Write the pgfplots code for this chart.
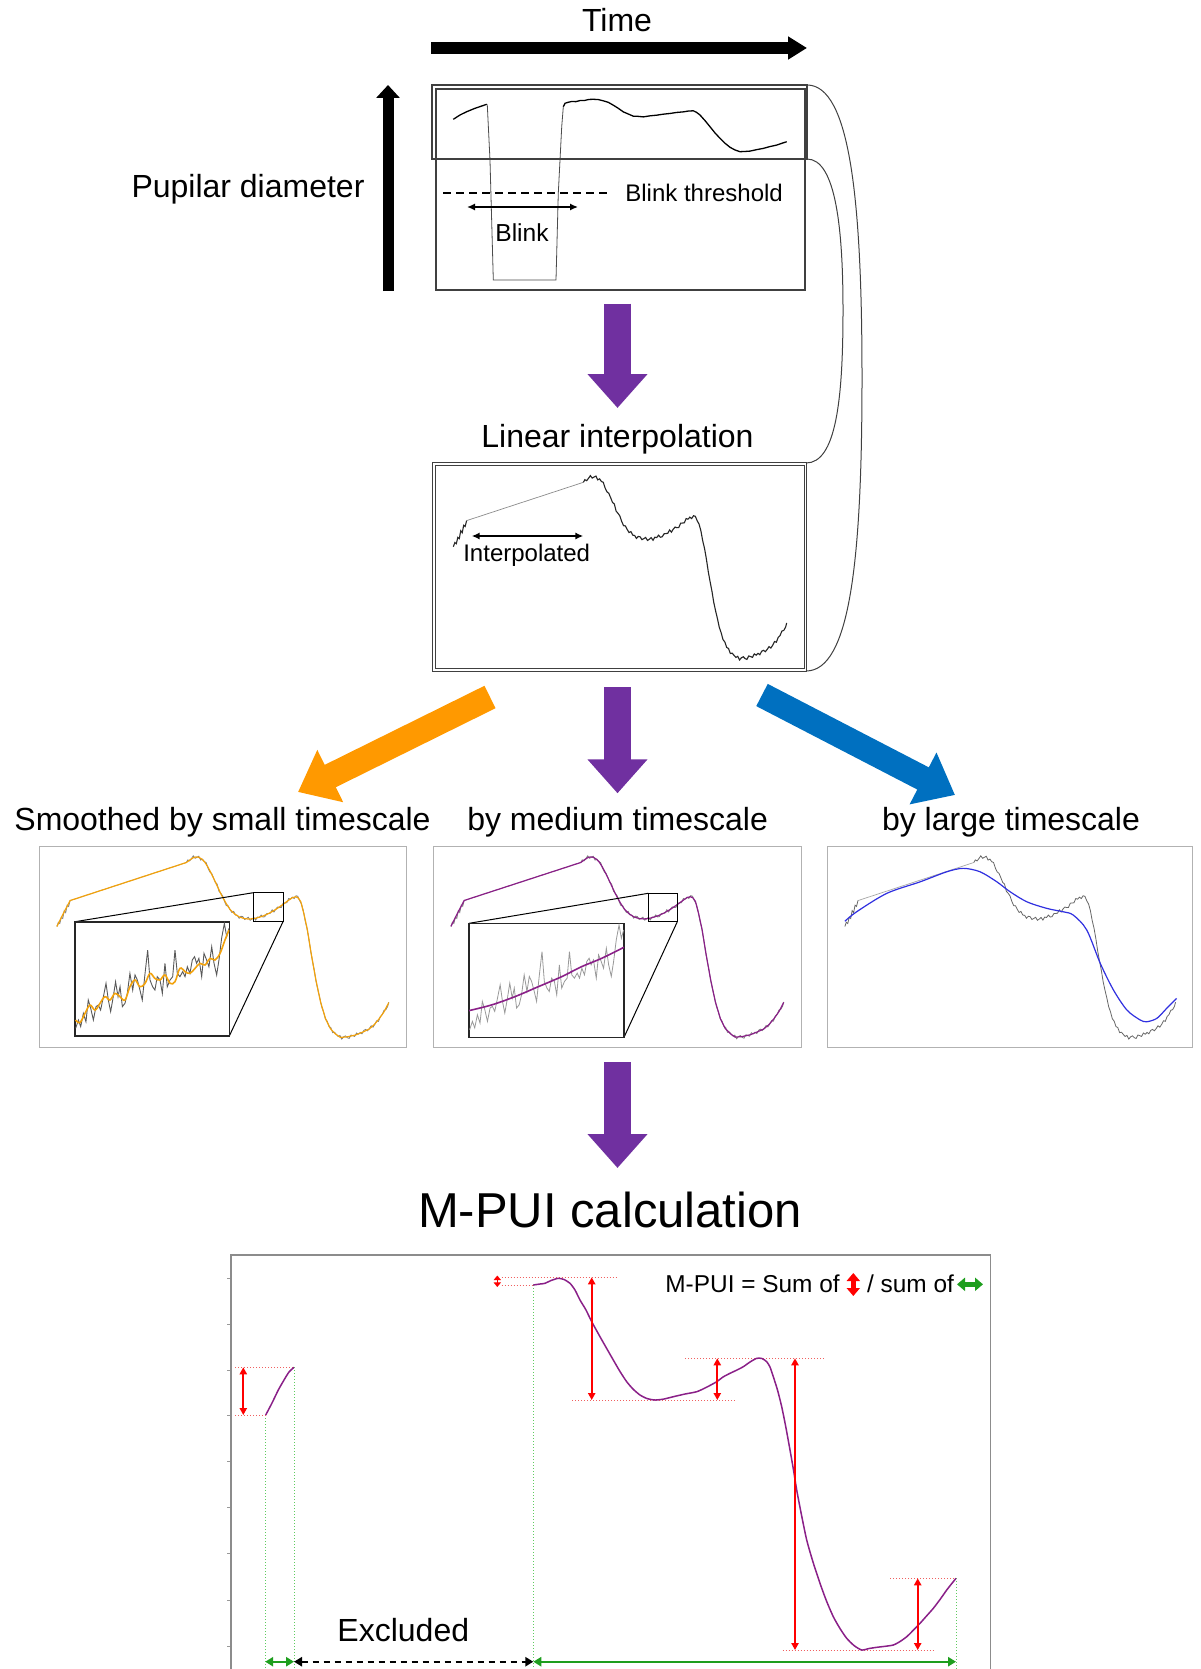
\documentclass[border=0pt]{standalone}
\usepackage{fontspec}
\setmainfont{Liberation Sans}
\usepackage{pgfplots}
\pgfplotsset{compat=1.18}
\usepackage{pgfplotstable}
\usetikzlibrary{arrows.meta}

\definecolor{arrorange}{HTML}{FF9900}
\definecolor{arrpurple}{HTML}{7030A0}
\definecolor{arrblue}{HTML}{0070C0}
\definecolor{smorange}{HTML}{F2A20C}
\definecolor{smpurple}{HTML}{8A2088}
\definecolor{smblue}{HTML}{3030E0}
\definecolor{mpuired}{HTML}{FF0000}
\definecolor{mpuigreen}{HTML}{1E9E1E}
\definecolor{dotgreen}{HTML}{5FCB5F}
\definecolor{dotred}{HTML}{F06060}

% raw trace with blink (time in % of window, diameter in arbitrary units)
\pgfplotstableread{
u v
4.69 60.2
6.50 67.5
8.32 73.1
10.57 78.8
12.38 82.7
13.74 85.6
}\topA
\pgfplotstableread{
u v
13.74 85.6
13.90 84.4
14.63 -8.6
15.53 -211.7
32.52 -211.7
33.14 -65.0
34.07 47.7
34.50 81.6
}\topBlink
\pgfplotstableread{
u v
34.50 81.6
34.96 87.3
35.8 89.0
36.78 90.4
37.9 90.1
39.02 91.9
40.2 92.0
41.4 93.8
42.63 94.1
44.0 93.6
45.34 91.5
46.7 88.9
48.05 84.1
49.4 78.8
50.76 72.8
52.1 69.2
53.47 65.5
54.8 65.2
56.18 64.3
58.0 66.1
59.81 67.2
61.6 68.9
63.41 70.1
65.2 71.8
67.02 72.8
68.4 74.2
69.73 74.6
70.6 72.0
71.54 67.5
72.9 58.0
74.25 47.7
75.6 37.2
76.96 28.1
78.3 19.8
79.67 12.9
81.0 8.4
82.38 5.4
83.7 5.8
85.09 6.4
86.9 8.9
88.70 11.0
90.5 14.1
92.33 16.6
93.7 19.6
95.04 22.3
}\topB

% trace after blink removal: samples before and after the gap
\pgfplotstableread{
u v
4.8 60.0
5.2 62.1
5.6 61.5
6.0 64.6
6.4 64.0
6.8 67.9
7.2 66.9
7.6 70.6
8.0 70.0
8.4 72.9
}\rawA
\pgfplotstableread{
u v
8.4 72.9
40.1 91.8
}\interp
\pgfplotstableread{
u v
40.1 91.8
40.5 93.1
41.0 92.6
41.5 93.8
42.0 95.1
42.5 93.9
43.0 94.4
43.5 94.9
44.0 93.0
44.5 93.5
45.0 92.2
45.5 91.8
46.0 89.0
46.5 87.1
47.0 86.4
47.5 84.2
48.0 81.9
48.5 81.1
49.0 77.5
49.5 76.5
50.0 75.2
50.5 72.5
51.0 70.4
51.5 70.3
52.0 68.5
52.5 67.0
53.0 67.5
53.5 65.7
54.0 65.6
54.5 64.1
55.0 65.1
55.5 64.9
56.0 63.5
56.5 64.0
57.0 64.6
57.5 63.1
58.0 63.7
58.5 64.5
59.0 63.2
59.5 64.7
60.0 64.5
60.5 65.7
61.0 64.7
61.5 64.9
62.0 66.4
62.5 66.5
63.0 66.6
63.5 68.3
64.0 67.2
64.5 68.7
65.0 69.7
65.5 69.4
66.0 69.5
66.5 71.6
67.0 71.7
67.5 71.8
68.0 73.9
68.5 73.6
69.0 74.6
69.5 73.9
70.0 75.3
70.5 75.0
71.0 72.8
71.5 71.2
72.0 67.9
72.5 62.9
73.0 59.1
73.5 53.9
74.0 47.8
74.5 42.8
75.0 38.1
75.5 32.5
76.0 28.3
76.5 24.5
77.0 20.2
77.5 17.6
78.0 14.2
78.5 13.0
79.0 10.3
79.5 9.8
80.0 7.3
80.5 7.5
81.0 6.4
81.5 5.4
82.0 5.9
82.5 4.1
83.0 5.2
83.5 5.7
84.0 4.8
84.5 4.4
85.0 6.1
85.5 5.8
86.0 5.4
86.5 7.1
87.0 6.5
87.5 7.4
88.0 6.7
88.5 8.4
89.0 8.9
89.5 8.2
90.0 9.3
90.5 10.7
91.0 10.0
91.5 11.4
92.0 13.2
92.5 12.9
93.0 15.3
93.5 16.2
94.0 18.4
94.5 18.7
95.0 20.3
95.3 22.4
}\rawB

% smoothed traces
\pgfplotstableread{
u v
4.8 60.0
6.6 66.6
8.4 72.9
40.1 91.8
41 93.0
42 94.2
42.8 94.6
43.5 94.4
44.3 93.5
45.1 92.1
46 89.5
47 86.0
48.2 81.4
49.5 76.3
50.9 71.6
52 68.5
53.3 66.2
54.6 64.7
56 63.9
57.3 63.7
59 64.1
61 65.2
62.7 66.6
64.5 68.5
66.3 70.8
68.1 73.2
69.0 74.3
69.9 74.8
70.6 74.2
71.3 72.4
72.2 66.0
73.1 58.4
74.2 46.0
75.4 33.7
76.7 22.5
78.1 14.0
79.4 9.2
80.8 6.6
82.1 4.9
84 5.2
86.2 6.1
88 7.4
89.9 9.0
91.3 11.2
92.6 14.0
94 17.6
95.3 22.2
}\smoothSM
\pgfplotstableread{
u v
4.8 62.6
8.0 67.3
16.3 76.5
25.4 82.2
32.7 87.2
37.2 88.9
41.8 87.2
46.4 82.2
50.0 77.3
54.6 72.3
60.1 69.0
64.6 67.3
67.3 65.7
71.0 58.3
74.7 41.7
78.3 28.5
82.0 18.5
85.6 13.6
87.4 12.7
90.2 14.4
92.9 19.4
95.6 24.3
}\smoothL

% close-up window of the raw trace
\pgfplotstableread{
p q
0.4 6.7
2.2 14.0
3.7 8.2
5.4 19.8
7.1 12.5
8.6 31.5
10.2 24.2
11.9 14.0
13.6 25.7
15.1 27.1
16.6 22.7
18.4 34.4
20.1 46.1
21.6 31.5
23.1 21.3
24.8 34.4
26.3 47.5
27.9 34.4
29.2 43.1
30.7 25.7
32.4 28.6
33.9 37.3
35.6 54.8
37.4 40.2
38.9 53.4
40.4 49.0
42.1 40.2
43.6 31.5
45.4 54.8
47.1 75.2
48.6 49.0
50.3 43.1
51.8 40.2
53.3 51.9
55.1 49.0
56.6 37.3
58.3 63.6
59.8 43.1
61.6 49.0
63.3 51.9
64.8 75.2
66.3 54.8
68.0 51.9
69.8 56.3
71.3 51.9
72.8 60.6
74.5 54.8
76.0 66.5
77.5 69.4
78.8 63.6
80.3 67.9
82.1 51.9
83.6 72.3
85.3 66.5
86.8 60.6
88.6 78.1
90.1 63.6
91.8 53.4
93.3 66.5
95.0 85.4
96.8 98.5
98.3 86.9
99.8 94.2
}\insetRaw
\pgfplotstableread{
p q
0.4 14.0
3.2 11.7
6.5 19.8
9.7 27.1
13.0 22.7
16.2 28.6
19.4 34.4
22.7 31.5
25.9 37.3
29.2 34.4
32.4 31.5
35.6 43.1
38.9 49.0
42.1 43.1
45.4 46.1
48.6 54.8
51.8 50.4
55.1 49.0
58.3 53.4
61.6 46.1
64.8 47.5
68.0 59.2
71.3 56.3
74.5 54.8
77.8 59.2
81.0 63.6
84.2 62.1
87.5 67.9
90.7 66.5
94.0 72.3
97.2 84.0
99.8 92.7
}\insetSmall
\pgfplotstableread{
p q
0 23.4
14.6 28.4
29.7 35.7
44.7 44.4
59.8 53.2
72.7 62.0
85.6 69.3
100 79.0
}\insetMedium

% medium-timescale trace used for M-PUI (time, diameter in plot units)
\pgfplotstableread{
t d
265.7 1415
272 1403
278.3 1390
284 1380
289 1372
294 1367.3
}\mpuiA
\pgfplotstableread{
t d
533.3 1285
540 1284
545 1283.3
551 1280.5
558.3 1278.3
564 1279.5
570 1283.3
575 1290
580 1300
586 1310
591.7 1321.7
600 1336.7
606.7 1348.5
613.3 1360
620 1371.5
626.7 1381.7
633 1389
640 1395
647 1398.5
655 1400
664 1399
673.3 1396.7
685 1394
696.7 1391.7
706 1387.5
716.7 1381.7
723 1377
730 1373.3
737 1370
743.3 1366.7
750 1362
756.7 1358.3
762 1358.5
766.7 1361.7
770 1367
773.3 1376.7
777.5 1390
781.7 1406.7
786 1428
790 1450
793.5 1470
796.7 1490
801.5 1515
806.7 1540
813 1562
820 1583.3
826.5 1601
833.3 1616.7
840 1628.5
846.7 1638.3
854 1645.5
861.7 1650
869 1648.5
876.7 1647.3
885 1646.3
893.3 1645
900 1641.5
906.7 1636.7
913 1630.5
920 1623.3
926.5 1616
933.3 1608.3
940 1599.5
946.7 1590
951 1584.5
956 1578.3
}\mpuiB

\pgfplotsset{
  panel/.style={scale only axis, anchor=north west, xtick=\empty, ytick=\empty,
    xmin=0, xmax=100, ymin=0, ymax=100,
    axis background/.style={fill=white},
    axis line style={draw=black!30, line width=0.5pt}},
  closeup/.style={panel, axis line style={draw=black!85, line width=0.8pt}},
}

\tikzset{
  txt/.style={inner sep=0pt, anchor=base},
  fatv/.style={line width=13.85pt, -{Triangle[length=17pt,width=29pt]}},
  dblk/.style={line width=0.8pt, {Latex[length=4pt,width=3.6pt]}-{Latex[length=4pt,width=3.6pt]}},
  reddot/.style={dotred, densely dotted, line width=0.5pt},
  greendot/.style={dotgreen, densely dotted, line width=0.5pt},
  redarr/.style={mpuired, line width=0.9pt, {Triangle[length=3.5pt,width=3.6pt]}-{Triangle[length=3.5pt,width=3.6pt]}},
  grnarr/.style={mpuigreen, line width=1.2pt, {Triangle[length=4pt,width=4.6pt]}-{Triangle[length=4pt,width=4.6pt]}},
}

\begin{document}
\begin{tikzpicture}
\begin{scope}[x=0.5pt,y=-0.5pt]
% axes of the schematic
\node[txt, font=\fontsize{16}{19}\selectfont] at (617,31.7) {Time};
\draw[line width=6pt, -{Triangle[length=9.5pt,width=11pt]}] (431,48) -- (807,48);
\node[txt, font=\fontsize{16}{19}\selectfont] at (248,198) {Pupilar diameter};
\draw[line width=5.5pt, -{Triangle[length=6.5pt,width=11.5pt]}] (388,291) -- (388,85);

% zoom connectors from the raw strip to the interpolated panel
\draw[black!75, line width=0.5pt] (807,85) .. controls (850,85) and (862,200) .. (862,378)
      .. controls (862,560) and (850,671) .. (806,671);
\draw[black!75, line width=0.5pt] (807,159) .. controls (836,159) and (843,230) .. (843,310)
      .. controls (843,400) and (836,463) .. (806,463);

% flow arrows
\draw[arrpurple, fatv] (617.5,303.5) -- (617.5,408);
\node[txt, font=\fontsize{16}{19}\selectfont] at (617.5,447) {Linear interpolation};
\draw[arrpurple, fatv] (617.5,687) -- (617.5,793.3);
\draw[arrorange, line width=12.5pt, -{Triangle[length=18pt,width=28pt]}] (490,697) -- (298,792);
\draw[arrblue, line width=12.5pt, -{Triangle[length=18pt,width=28pt]}] (762,695) -- (955,795);
\node[txt, font=\fontsize{16}{19}\selectfont] at (222.5,830.5) {Smoothed by small timescale};
\node[txt, font=\fontsize{16}{19}\selectfont] at (617.6,830.5) {by medium timescale};
\node[txt, font=\fontsize{16}{19}\selectfont] at (1011,830.5) {by large timescale};
\draw[arrpurple, fatv] (617.5,1062) -- (617.5,1168);
\node[txt, font=\fontsize{24.5}{30}\selectfont] at (610,1227.7) {M-PUI calculation};
\end{scope}

% raw trace with blink
\begin{axis}[panel, at={(218pt,-44.5pt)}, width=184.5pt, height=100.5pt,
    ymin=-228.6, ymax=111.5, axis line style={draw=black!75, line width=0.6pt}]
  \addplot[black!70, line width=0.4pt] table {\topBlink};
  \addplot[black, line width=0.65pt] table {\topA};
  \addplot[black, line width=0.65pt] table {\topB};
\end{axis}
\begin{scope}[x=0.5pt,y=-0.5pt]
\draw[black!75, line width=0.6pt] (432,85) rectangle (807,159);
\draw[line width=0.7pt, dash pattern=on 4pt off 2.5pt] (443,193) -- (610,193);
\node[txt, anchor=base west, font=\fontsize{12}{14}\selectfont] at (625,201.7) {Blink threshold};
\draw[dblk] (467,207) -- (578,207);
\node[txt, font=\fontsize{12.3}{14}\selectfont] at (522,241.7) {Blink};
\draw[black!75, line width=0.5pt] (432.7,462.7) rectangle (806.7,671.7);
\end{scope}

% linearly interpolated trace
\begin{axis}[panel, at={(217.85pt,-232.85pt)}, width=184.15pt, height=101.3pt,
    axis line style={draw=black!75, line width=0.5pt}]
  \addplot[black!45, line width=0.35pt] table {\interp};
  \addplot[black!85, line width=0.55pt] table {\rawA};
  \addplot[black!85, line width=0.55pt] table {\rawB};
\end{axis}
\begin{scope}[x=0.5pt,y=-0.5pt]
\draw[dblk] (471.7,536) -- (583.3,536);
\node[txt, font=\fontsize{12}{14}\selectfont] at (526.7,561) {Interpolated};
\end{scope}

% small timescale
\begin{axis}[panel, at={(19.65pt,-423pt)}, width=183.35pt, height=100.65pt]
  \addplot[black!35, line width=0.35pt] table {\interp};
  \addplot[black!50, line width=0.4pt] table {\rawA};
  \addplot[black!50, line width=0.4pt] table {\rawB};
  \addplot[smorange, line width=0.6pt] table {\smoothSM};
\end{axis}
% medium timescale
\begin{axis}[panel, at={(216.65pt,-423pt)}, width=183.85pt, height=100.5pt]
  \addplot[black!35, line width=0.35pt] table {\interp};
  \addplot[black!50, line width=0.4pt] table {\rawA};
  \addplot[black!50, line width=0.4pt] table {\rawB};
  \addplot[smpurple, line width=0.6pt] table {\smoothSM};
\end{axis}
% large timescale
\begin{axis}[panel, at={(413.65pt,-423pt)}, width=182.7pt, height=100.65pt]
  \addplot[black!35, line width=0.35pt] table {\interp};
  \addplot[black!60, line width=0.4pt] table {\rawA};
  \addplot[black!60, line width=0.4pt] table {\rawB};
  \addplot[smblue, line width=0.6pt, smooth, tension=0.5] table {\smoothL};
\end{axis}

\begin{scope}[x=0.5pt,y=-0.5pt]
\draw[black, line width=0.5pt] (253.3,892.7) rectangle (283.3,921);
\draw[black, line width=0.5pt] (253.3,892.7) -- (75,921.7);
\draw[black, line width=0.5pt] (283.3,921) -- (229.3,1036);
\draw[black, line width=0.5pt] (648.3,893.3) rectangle (677.3,921.7);
\draw[black, line width=0.5pt] (648.3,893.3) -- (469,923.3);
\draw[black, line width=0.5pt] (677.3,921.7) -- (624,1037.3);
\end{scope}

% close-ups
\begin{axis}[closeup, at={(37.5pt,-460.85pt)}, width=77.15pt, height=57.15pt]
  \addplot[black!65, line width=0.45pt] table {\insetRaw};
  \addplot[smorange, line width=0.8pt, smooth, tension=0.6] table {\insetSmall};
\end{axis}
\begin{axis}[closeup, at={(234.5pt,-461.65pt)}, width=77.5pt, height=57pt]
  \addplot[black!40, line width=0.4pt] table {\insetRaw};
  \addplot[smpurple, line width=0.8pt, smooth] table {\insetMedium};
\end{axis}

% M-PUI
\begin{axis}[at={(115.5pt,-627.5pt)}, anchor=north west, scale only axis,
    width=379.85pt, height=222.5pt,
    xmin=231, xmax=990.7, ymin=1255, ymax=1700, y dir=reverse,
    xtick=\empty, ytick={1278.3,1324,1370,1415.7,1461.7,1507.7,1553.3,1600,1646.7},
    yticklabels={}, ytick pos=left, tick align=outside, major tick length=2pt,
    y tick style={black!40, line width=0.4pt},
    axis line style={draw=black!45, line width=0.6pt}]
  \draw[greendot] (265.2,1415) -- (265.2,1700);
  \draw[greendot] (294,1367.3) -- (294,1700);
  \draw[greendot] (533.3,1285) -- (533.3,1700);
  \draw[greendot] (956,1578.3) -- (956,1700);
  \draw[reddot] (235,1367.3) -- (294,1367.3);
  \draw[reddot] (235,1415) -- (265.7,1415);
  \draw[reddot] (501.7,1277.3) -- (618.3,1277.3);
  \draw[reddot] (501.7,1285) -- (533.3,1285);
  \draw[reddot] (572.3,1400) -- (736.7,1400);
  \draw[reddot] (685,1358.3) -- (825,1358.3);
  \draw[reddot] (782.7,1650) -- (935,1650);
  \draw[reddot] (890,1578.3) -- (956,1578.3);
  \addplot[smpurple, line width=0.75pt, smooth, tension=0.4] table {\mpuiA};
  \addplot[smpurple, line width=0.75pt, smooth, tension=0.4] table {\mpuiB};
  \draw[redarr] (243.3,1367.3) -- (243.3,1415);
  \draw[mpuired, line width=0.8pt, {Triangle[length=2.3pt,width=3.6pt]}-{Triangle[length=2.3pt,width=3.6pt]}] (497.3,1275.5) -- (497.3,1287);
  \draw[redarr] (591.7,1277.3) -- (591.7,1400);
  \draw[redarr] (717.3,1358.3) -- (717.3,1400);
  \draw[redarr] (795,1358.3) -- (795,1650);
  \draw[redarr] (917.7,1578.3) -- (917.7,1650);
  \draw[grnarr] (265.2,1661.7) -- (294,1661.7);
  \draw[line width=1pt, dash pattern=on 3.3pt off 2.2pt, {Triangle[length=4pt,width=4.6pt]}-{Triangle[length=4pt,width=4.6pt]}] (294,1661.7) -- (533.3,1661.7);
  \draw[grnarr] (533.3,1661.7) -- (956,1661.7);
\end{axis}

\begin{scope}[x=0.5pt,y=-0.5pt]
\node[txt, font=\fontsize{16}{19}\selectfont] at (403.3,1641.7) {Excluded};
\node[txt, anchor=base west, font=\fontsize{12.2}{14}\selectfont] at (665,1292.7) {M-PUI = Sum of};
\draw[mpuired, line width=2.6pt, {Triangle[length=4pt,width=6.5pt]}-{Triangle[length=4pt,width=6.5pt]}] (853.3,1273) -- (853.3,1296);
\node[txt, anchor=base west, font=\fontsize{12.2}{14}\selectfont] at (866.7,1292.7) {/ sum of};
\draw[mpuigreen, line width=2.6pt, {Triangle[length=4pt,width=6.5pt]}-{Triangle[length=4pt,width=6.5pt]}] (957,1284.3) -- (983,1284.3);
\end{scope}

% page = 1200 x 1669 units of 0.5pt
\pgfresetboundingbox
\path[use as bounding box] (0pt,0pt) rectangle (600pt,-834.5pt);
\end{tikzpicture}
\end{document}
